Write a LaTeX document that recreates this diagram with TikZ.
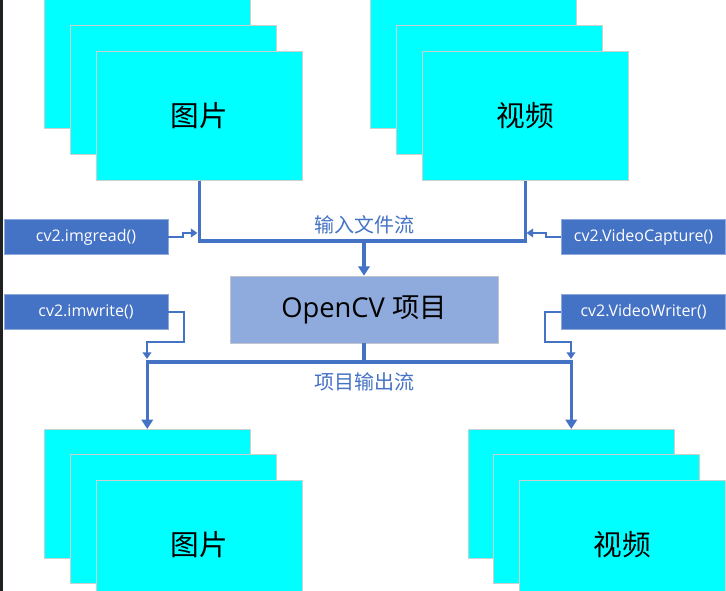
\documentclass[tikz,border=0pt]{standalone}
\usepackage{fontspec}
\setmainfont{Open Sans}
\newfontfamily\cjk{Noto Sans CJK SC}
\usetikzlibrary{arrows.meta, positioning}

\definecolor{cardcyan}{HTML}{00FFFF}
\definecolor{cardedge}{HTML}{C8D0D0}
\definecolor{funcblue}{HTML}{4472C4}
\definecolor{funcedge}{HTML}{8EA9DB}
\definecolor{cvfill}{HTML}{8FAADC}
\definecolor{cvedge}{HTML}{C0C4CC}
\definecolor{darkstrip}{HTML}{1E2220}

\begin{document}
\begin{tikzpicture}[
    x=0.75pt, y=-0.75pt,
    card/.style={rectangle, draw=cardedge, fill=cardcyan, anchor=north west, inner sep=0pt,
                 minimum width=154.5pt, minimum height=96.75pt, font=\cjk\fontsize{21.5}{25}\selectfont},
    func/.style={rectangle, draw=funcedge, fill=funcblue, text=white, inner sep=0pt,
                 minimum width=123pt, minimum height=26.25pt, font=\fontsize{12}{14}\selectfont},
    project/.style={rectangle, draw=cvedge, fill=cvfill, inner sep=0pt,
                 minimum width=201pt, minimum height=50.25pt, font=\fontsize{20.5}{24}\selectfont},
    flow/.style={draw=funcblue, line width=2.6pt},
    feed/.style={draw=funcblue, line width=1.2pt, -{Triangle[width=6.5pt,length=5pt]}},
    bigtip/.tip={Triangle[width=8.5pt,length=7pt]},
    streamlabel/.style={text=funcblue, font=\cjk\fontsize{15}{18}\selectfont}
]
\useasboundingbox (0,0) rectangle (726,591);
\clip (0,0) rectangle (726,591);
\fill[darkstrip] (0,0) rectangle (3,591);

% input stacks
\node[card] (picinA) at (44,-1) {};
\node[card] (picinB) at (70,25) {};
\node[card] (picin) at (96,51) {图片};
\node[card] (vidinA) at (370,-1) {};
\node[card] (vidinB) at (396,25) {};
\node[card] (vidin) at (422,51) {视频};

% output stacks
\node[card] (picout) at (44,429) {};
\node[card] (picoutB) at (70,454) {};
\node[card] (picoutC) at (96,480) {图片};
\node[card] (vidout) at (468,429) {};
\node[card] (vidoutB) at (493,454) {};
\node[card] (vidoutC) at (519,480) {视频};

\node[project] (cv) at (364,309.5) {OpenCV {\cjk 项目}};

\node[func] (imgread) at (86,237) {cv2.imgread()};
\node[func] (vidcap) at (643.5,237) {cv2.VideoCapture()};
\node[func] (imwrite) at (86,312) {cv2.imwrite()};
\node[func] (vidwrite) at (643.5,312) {cv2.VideoWriter()};

\coordinate (inbus) at (364,241);
\coordinate (outbus) at (364,362);
\coordinate (readtip) at (197.5,233);
\coordinate (captip) at (526.5,233);
\coordinate (writetip) at (147,359);
\coordinate (vwtip) at (571,359);

\draw[flow] (picin.south) |- (inbus) -| (vidin.south);
\draw[flow, -bigtip] (inbus) -- (cv.north);
\draw[flow] (cv.south) -- (outbus);
\draw[flow, bigtip-bigtip] (picout.north) |- (outbus) -| (vidout.north);

\node[streamlabel] (inlabel) at (364,225) {输入文件流};
\node[streamlabel] (outlabel) at (364,382) {项目输出流};

\draw[feed] (imgread.east) -- ++(15,0) -- ++(0,-4) -- (readtip);
\draw[feed] (vidcap.west) -- ++(-15,0) -- ++(0,-4) -- (captip);
\draw[feed] (imwrite.east) -| ++(16,30) -| (writetip);
\draw[feed] (vidwrite.west) -| ++(-16,30) -| (vwtip);
\end{tikzpicture}
\end{document}
